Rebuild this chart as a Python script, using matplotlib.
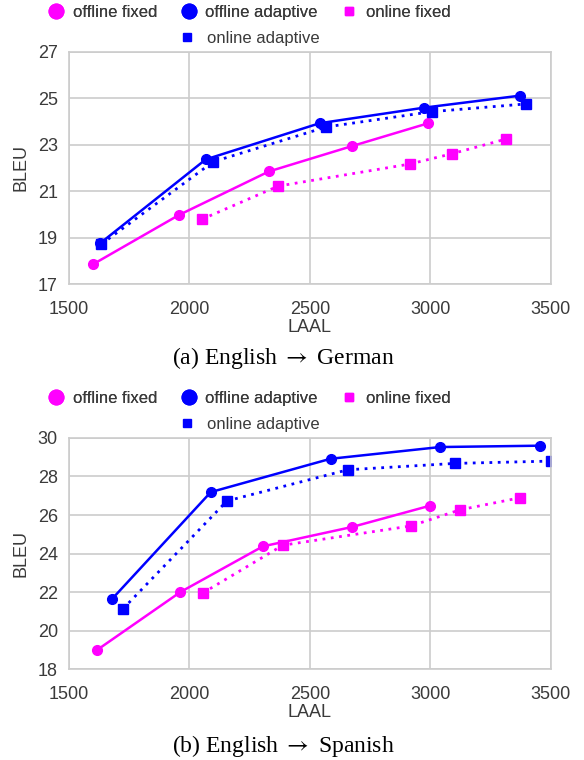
import matplotlib.pyplot as plt
from matplotlib.lines import Line2D

# ==================== data ====================
# (a) English -> German
de_off_fixed_x = [1600, 1956, 2330, 2677, 2992]
de_off_fixed_y = [17.85, 19.97, 21.85, 22.95, 23.93]
de_off_adapt_x = [1629, 2068, 2541, 2974, 3374]
de_off_adapt_y = [18.75, 22.37, 23.93, 24.60, 25.12]
de_on_fixed_x = [2052, 2369, 2915, 3092, 3315]
de_on_fixed_y = [19.79, 21.22, 22.17, 22.62, 23.25]
de_on_adapt_x = [1635, 2099, 2569, 3008, 3396]
de_on_adapt_y = [18.72, 22.27, 23.77, 24.43, 24.76]

# (b) English -> Spanish
es_off_fixed_x = [1617, 1963, 2305, 2676, 2998]
es_off_fixed_y = [18.99, 22.00, 24.37, 25.38, 26.48]
es_off_adapt_x = [1680, 2089, 2586, 3041, 3454]
es_off_adapt_y = [21.65, 27.19, 28.92, 29.53, 29.60]
es_on_fixed_x = [2056, 2388, 2919, 3124, 3374]
es_on_fixed_y = [21.95, 24.43, 25.43, 26.27, 26.90]
es_on_adapt_x = [1724, 2156, 2658, 3103, 3500]
es_on_adapt_y = [21.12, 26.73, 28.35, 28.68, 28.80]

labels = ['offline fixed', 'offline adaptive', 'online fixed', 'online adaptive']
captions = [r'(a) English $\rightarrow$ German', r'(b) English $\rightarrow$ Spanish']

MAG = '#ff00ff'
BLUE = '#0000ff'
GRID = '#cccccc'
TXT = '#3a3a3a'

plt.rcParams['font.family'] = ['Liberation Sans', 'DejaVu Sans']
plt.rcParams['font.size'] = 12.5
plt.rcParams['mathtext.fontset'] = 'stix'

fig = plt.figure(figsize=(5.84, 7.6), dpi=100)
ax1 = fig.add_axes([0.118, 0.6263, 0.825, 0.3053])
ax2 = fig.add_axes([0.118, 0.1197, 0.825, 0.3040])


def draw(ax, data, ylim, yticks):
    (ofx, ofy), (oax, oay), (nfx, nfy), (nax, nay) = data
    ax.plot(ofx, ofy, color=MAG, lw=1.8, marker='o', ms=7)
    ax.plot(oax, oay, color=BLUE, lw=1.8, marker='o', ms=7)
    ax.plot(nfx, nfy, color=MAG, lw=2.0, ls=(0, (1, 2)), marker='s', ms=6.5)
    ax.plot(nax, nay, color=BLUE, lw=2.0, ls=(0, (1, 2)), marker='s', ms=6.5)
    ax.set_xlim(1500, 3500)
    ax.set_ylim(*ylim)
    ax.set_xticks([1500, 2000, 2500, 3000, 3500])
    ax.set_yticks(yticks)
    ax.grid(True, color=GRID, lw=1.2)
    ax.set_axisbelow(True)
    for s in ax.spines.values():
        s.set_color(GRID)
        s.set_linewidth(1.2)
    ax.tick_params(length=0, colors=TXT, labelsize=13)
    ax.tick_params(axis='x', pad=12)
    ax.tick_params(axis='y', pad=8)
    ax.set_xlabel('LAAL', color=TXT, fontsize=13, labelpad=1)
    ax.set_ylabel('BLEU', color=TXT, fontsize=13, labelpad=6)


draw(ax1, [(de_off_fixed_x, de_off_fixed_y), (de_off_adapt_x, de_off_adapt_y),
           (de_on_fixed_x, de_on_fixed_y), (de_on_adapt_x, de_on_adapt_y)],
     (17, 27), [17, 19, 21, 23, 25, 27])
draw(ax2, [(es_off_fixed_x, es_off_fixed_y), (es_off_adapt_x, es_off_adapt_y),
           (es_on_fixed_x, es_on_fixed_y), (es_on_adapt_x, es_on_adapt_y)],
     (18, 30), [18, 20, 22, 24, 26, 28, 30])

# ---- legends: three entries in the first row, one centred below ----
handles = [
    Line2D([], [], ls='none', marker='o', ms=10.5, color=MAG),
    Line2D([], [], ls='none', marker='o', ms=10.5, color=BLUE),
    Line2D([], [], ls='none', marker='s', ms=6, color=MAG),
    Line2D([], [], ls='none', marker='s', ms=6, color=BLUE),
]
for row1_y, row2_y in [(0.984, 0.950), (0.476, 0.442)]:
    leg = fig.legend(handles[:3], labels[:3], loc='center', ncol=3,
                     bbox_to_anchor=(0.425, row1_y), frameon=False,
                     fontsize=12, handletextpad=0.4, columnspacing=1.3,
                     handlelength=1.2, labelcolor=TXT)
    fig.add_artist(leg)
    fig.legend(handles[3:], labels[3:], loc='center',
               bbox_to_anchor=(0.425, row2_y), frameon=False,
               fontsize=12, handletextpad=0.6, handlelength=1.2,
               labelcolor=TXT)

for y, cap in zip([0.529, 0.018], captions):
    fig.text(0.485, y, cap, ha='center', va='center', fontsize=17,
             family=['Liberation Serif', 'DejaVu Serif'], color='black')

fig.savefig('out.png', dpi=100)
